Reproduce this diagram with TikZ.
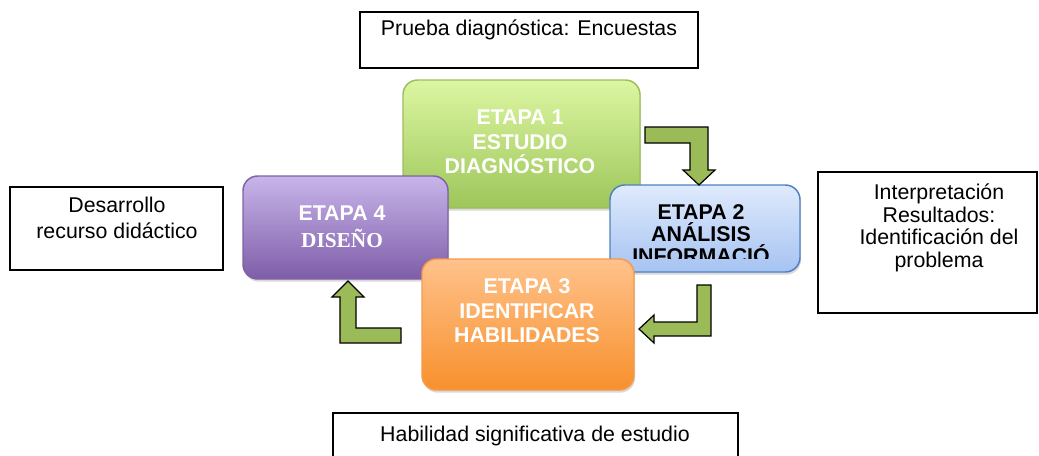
\documentclass[tikz,border=0pt]{standalone}
\usepackage{fontspec}
\setmainfont{Liberation Sans}
\newfontfamily\serifbold{Liberation Serif}
\usetikzlibrary{positioning,shadows}
\definecolor{arrowgreen}{HTML}{9BBB59}
\definecolor{greentop}{HTML}{DCF6A2}
\definecolor{greenbot}{HTML}{9DC65A}
\definecolor{greenline}{HTML}{9CBF5E}
\definecolor{purpletop}{HTML}{C8B5EA}
\definecolor{purplebot}{HTML}{7E5DA8}
\definecolor{purpleline}{HTML}{7F62A6}
\definecolor{bluetop}{HTML}{DFEAFC}
\definecolor{bluebot}{HTML}{A6C3F2}
\definecolor{blueline}{HTML}{4F81BD}
\definecolor{orangetop}{HTML}{FFC28B}
\definecolor{orangebot}{HTML}{F8902D}
\definecolor{orangeline}{HTML}{F59A4E}

\begin{document}
\begin{tikzpicture}[x=0.75pt,y=-0.75pt,
    notebox/.style={draw=black, line width=1.2pt},
    notetext/.style={align=center, inner sep=0pt, font=\fontsize{16}{19.5}\selectfont},
    stagebox/.style={rounded corners=11pt, line width=1.1pt,
        drop shadow={opacity=0.3, shadow xshift=0.8pt, shadow yshift=-2pt}},
    stagetext/.style={align=center, inner sep=0pt, text=white,
        font=\fontsize{16}{18.3}\selectfont\bfseries},
    bentarrow/.style={draw=black, line width=0.9pt, fill=arrowgreen, line join=miter}]
    \useasboundingbox (0,0) rectangle (1039,455);

    \node[notebox, minimum width=253.5pt, minimum height=42pt] (prueba) at (529,40) {};
    \node[notetext] (pruebatxt) at (529,30) {Prueba diagnóstica: Encuestas};

    \node[notebox, minimum width=159.75pt, minimum height=62.25pt] (desarrollo) at (116.5,228.5) {};
    \node[notetext] (desarrollotxt) at (117,217.5) {Desarrollo\\recurso didáctico};

    \node[notebox, minimum width=164.25pt, minimum height=105.75pt] (interpretacion) at (927.5,242.5) {};
    \node[notetext, font=\fontsize{16}{17}\selectfont] (interpretaciontxt) at (939,228)
        {Interpretación\\Resultados:\\Identificación del\\problema};

    \node[notebox, minimum width=303.75pt, minimum height=50.25pt] (habilidad) at (535.5,446.5) {};
    \node[notetext] (habilidadtxt) at (535,435.5) {Habilidad significativa de estudio};

    \node[stagebox, draw=greenline, top color=greentop, bottom color=greenbot,
        minimum width=177.75pt, minimum height=96pt] (etapa1) at (521.5,144) {};
    \node[stagetext] (etapa1txt) at (520,142) {ETAPA 1\\ESTUDIO\\DIAGNÓSTICO};

    \node[stagebox, draw=purpleline, top color=purpletop, bottom color=purplebot,
        minimum width=153.75pt, minimum height=77.25pt] (etapa4) at (345.5,227.5) {};
    \node[stagetext, font=\fontsize{16}{20}\selectfont\bfseries] (etapa4txt) at (342,227)
        {ETAPA 4\\{\serifbold DISEÑO}};

    \node[stagebox, draw=blueline, top color=bluetop, bottom color=bluebot,
        minimum width=142.5pt, minimum height=65.25pt] (etapa2) at (705,228.5) {};
    \begin{scope}
        \clip (610,185) rectangle (800,258);
        \node[stagetext, text=black, font=\fontsize{16}{16.5}\selectfont\bfseries] (etapa2txt)
            at (701,234.5) {ETAPA 2\\ANÁLISIS\\INFORMACIÓ};
    \end{scope}

    \node[stagebox, draw=orangeline, top color=orangetop, bottom color=orangebot,
        minimum width=159pt, minimum height=98.25pt] (etapa3) at (528,324.5) {};
    \node[stagetext] (etapa3txt) at (527,311) {ETAPA 3\\IDENTIFICAR\\HABILIDADES};

    \filldraw[bentarrow] (645,127) -- (708,127) -- (708,170) -- (715,170) -- (699,185)
        -- (683,170) -- (690,170) -- (690,143) -- (645,143) -- cycle;
    \filldraw[bentarrow] (697,285) -- (711,285) -- (711,336) -- (654,336) -- (654,343)
        -- (639,329) -- (654,315) -- (654,322) -- (697,322) -- cycle;
    \filldraw[bentarrow] (401,328) -- (401,343) -- (340,343) -- (340,297) -- (332,297)
        -- (348,281) -- (364,297) -- (356,297) -- (356,328) -- cycle;
\end{tikzpicture}
\end{document}
